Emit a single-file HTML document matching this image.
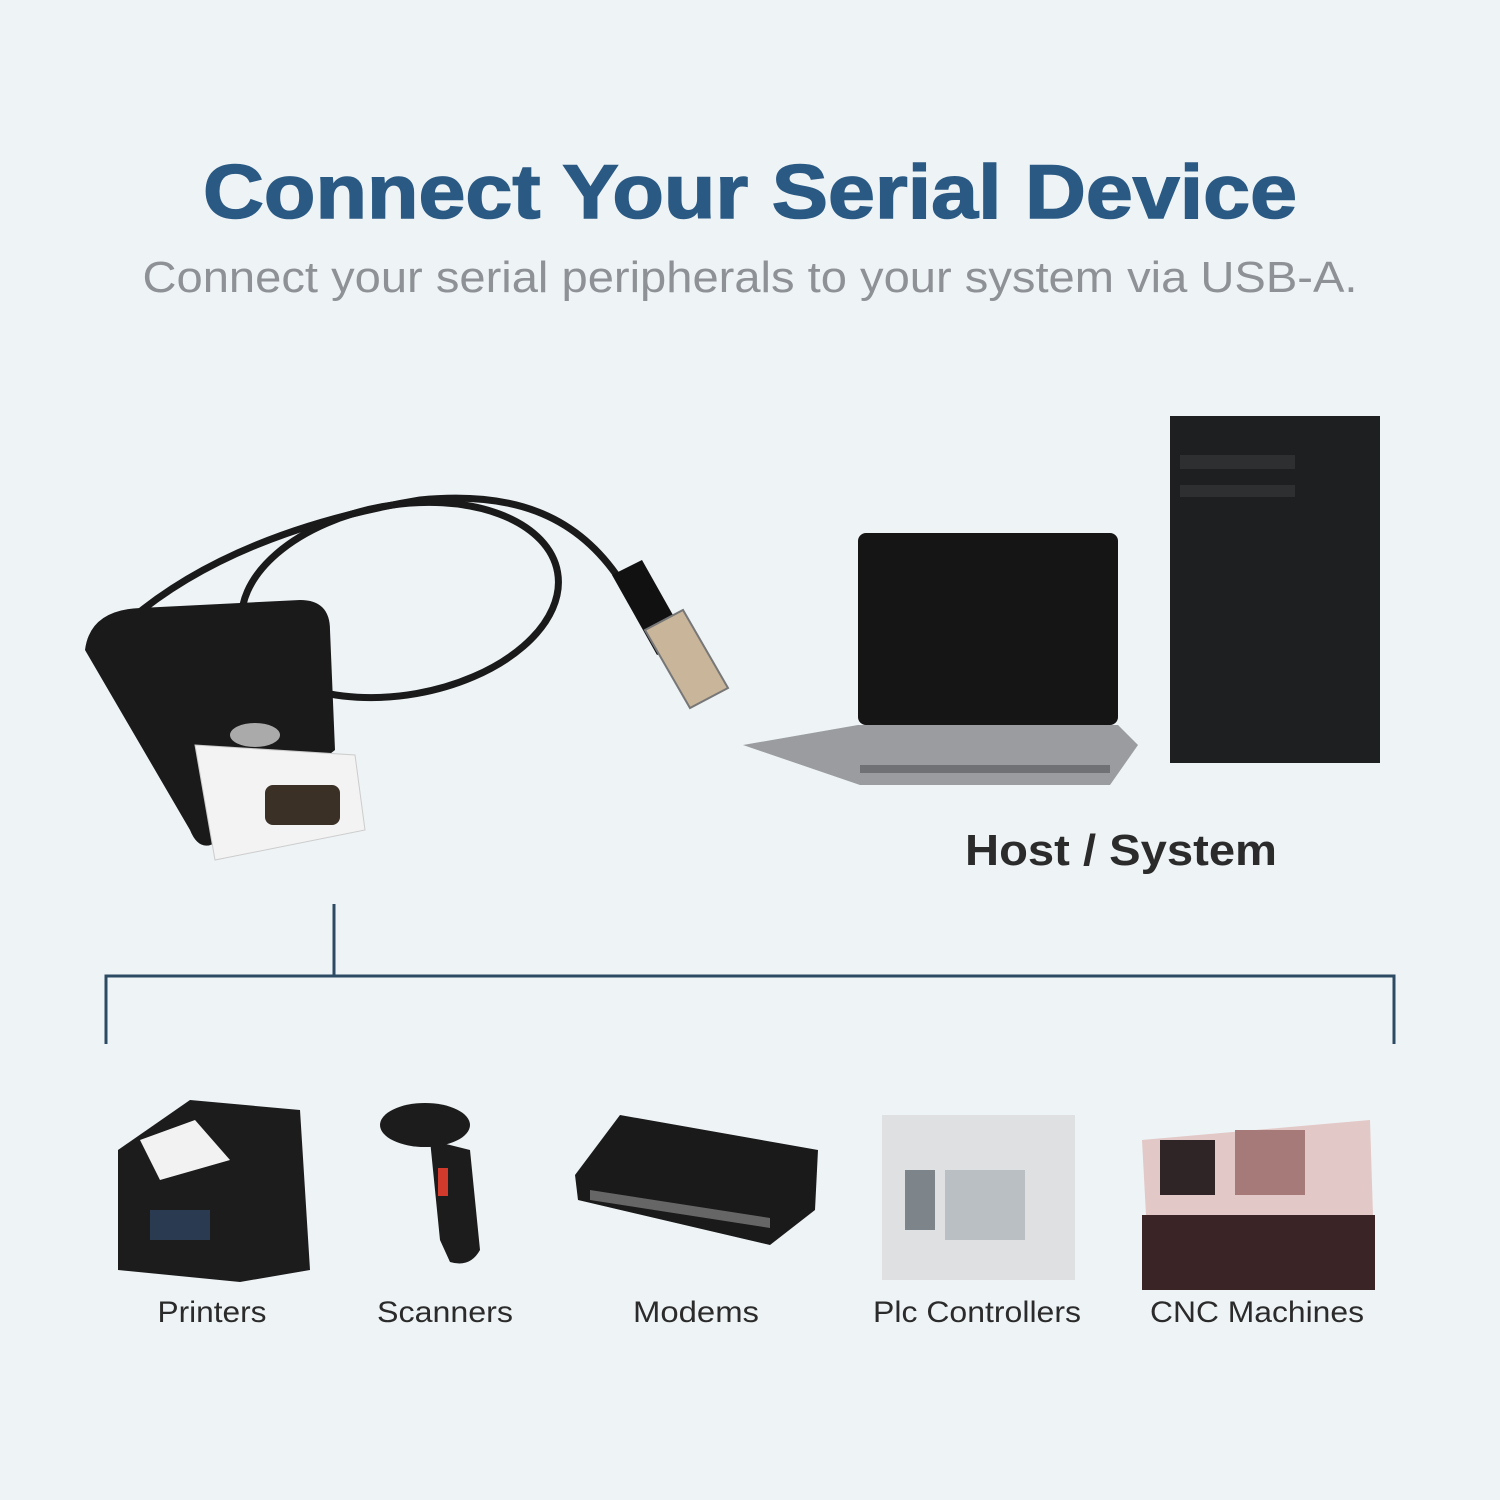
<!DOCTYPE html>
<html><head><style>html,body{margin:0;padding:0;background:#eef3f6}</style></head><body>
<svg width="1500" height="1500" viewBox="0 0 1500 1500" xmlns="http://www.w3.org/2000/svg" style="display:block">
<rect width="1500" height="1500" fill="#eef3f6"/>
<text x="750" y="218" text-anchor="middle" font-family="Liberation Sans, sans-serif" font-weight="bold" font-size="76" fill="#2a5a84" stroke="#2a5a84" stroke-width="1.5" textLength="1094" lengthAdjust="spacingAndGlyphs">Connect Your Serial Device</text>
<text x="750" y="292" text-anchor="middle" font-family="Liberation Sans, sans-serif" font-size="44" fill="#8e9296" textLength="1215" lengthAdjust="spacingAndGlyphs">Connect your serial peripherals to your system via USB-A.</text>

<g fill="none" stroke="#1a1a1a" stroke-width="7">
<ellipse cx="400" cy="600" rx="160" ry="95" transform="rotate(-10 400 600)"/>
<path d="M130 620 C200 560 300 520 420 500 C520 490 580 520 620 580"/>
</g>
<path d="M612 575 l30 -15 l45 80 l-30 15 z" fill="#111"/>
<path d="M645 630 l38 -20 l45 78 l-38 20 z" fill="#c9b59a" stroke="#777" stroke-width="2"/>
<path d="M85 650 Q90 610 140 608 L300 600 Q330 600 330 630 L335 750 L220 840 Q200 855 190 830 Z" fill="#1a1a1a"/>
<path d="M195 745 L355 755 L365 830 L215 860 Z" fill="#f3f3f3" stroke="#ccc"/>
<rect x="265" y="785" width="75" height="40" rx="8" fill="#3a3026"/>
<ellipse cx="255" cy="735" rx="25" ry="12" fill="#aaa"/>

<rect x="858" y="533" width="260" height="192" rx="8" fill="#151515"/>
<path d="M743 745 L858 725 L1118 725 L1138 745 L1110 785 L860 785 Z" fill="#9a9ca0"/>
<rect x="860" y="765" width="250" height="8" fill="#6f7175"/>

<rect x="1170" y="416" width="210" height="347" fill="#1e1f21"/>
<rect x="1180" y="455" width="115" height="14" fill="#2e2f31"/>
<rect x="1180" y="485" width="115" height="12" fill="#2e2f31"/>

<text x="1121" y="865" text-anchor="middle" font-family="Liberation Sans, sans-serif" font-size="44" font-weight="bold" fill="#2b2b2b" textLength="312" lengthAdjust="spacingAndGlyphs">Host / System</text>

<g stroke="#2c4a62" stroke-width="3" fill="none">
<path d="M334 904 V976"/>
<path d="M106 1044 V976 H1394 V1044"/>
</g>

<path d="M118 1150 L190 1100 L300 1110 L310 1270 L240 1282 L118 1270 Z" fill="#1c1c1d"/>
<path d="M140 1140 L195 1120 L230 1160 L160 1180 Z" fill="#f2f2f2"/>
<rect x="150" y="1210" width="60" height="30" fill="#2a3a50"/>
<ellipse cx="425" cy="1125" rx="45" ry="22" fill="#1c1c1c"/>
<path d="M430 1140 L470 1150 L480 1250 Q470 1268 450 1262 L440 1240 Z" fill="#1c1c1c"/>
<rect x="438" y="1168" width="10" height="28" fill="#d23a2b"/>
<path d="M575 1175 L620 1115 L818 1150 L815 1210 L770 1245 L578 1200 Z" fill="#1a1a1a"/>
<path d="M590 1190 L770 1218 L770 1228 L590 1200 Z" fill="#666"/>
<rect x="882" y="1115" width="193" height="165" fill="#dfe0e2"/>
<rect x="945" y="1170" width="80" height="70" fill="#b9bfc2"/>
<rect x="905" y="1170" width="30" height="60" fill="#7d848a"/>
<path d="M1142 1140 L1370 1120 L1375 1280 L1150 1290 Z" fill="#e2c8c6"/>
<rect x="1142" y="1215" width="233" height="75" fill="#3b2425"/>
<rect x="1160" y="1140" width="55" height="55" fill="#2f2526"/>
<rect x="1235" y="1130" width="70" height="65" fill="#a67a78"/>

<g font-family="Liberation Sans, sans-serif" font-size="30" fill="#2b2b2b" text-anchor="middle" lengthAdjust="spacingAndGlyphs">
<text x="212" y="1322" textLength="109" lengthAdjust="spacingAndGlyphs">Printers</text>
<text x="445" y="1322" textLength="136" lengthAdjust="spacingAndGlyphs">Scanners</text>
<text x="696" y="1322" textLength="126" lengthAdjust="spacingAndGlyphs">Modems</text>
<text x="977" y="1322" textLength="208" lengthAdjust="spacingAndGlyphs">Plc Controllers</text>
<text x="1257" y="1322" textLength="214" lengthAdjust="spacingAndGlyphs">CNC Machines</text>
</g>
</svg>
</body></html>
